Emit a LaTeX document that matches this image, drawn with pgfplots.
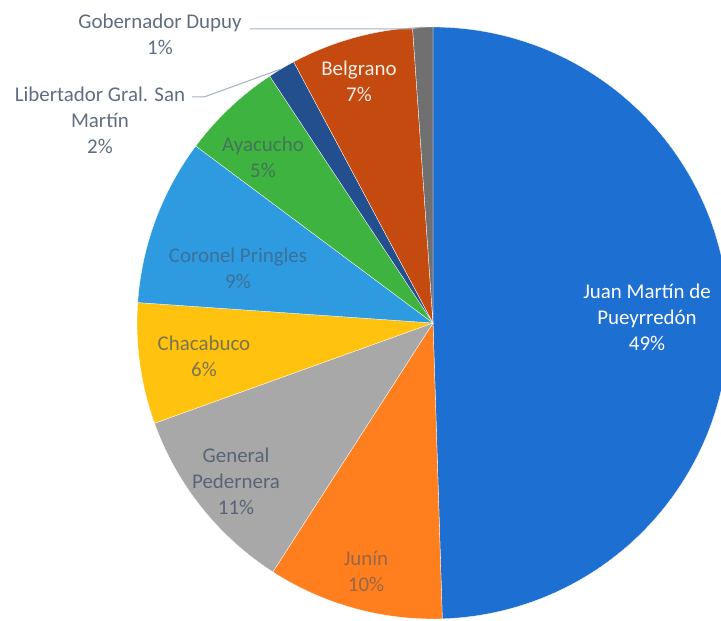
\documentclass[border=0pt]{standalone}
\usepackage{pgfplots}
\pgfplotsset{compat=1.18}
\usepackage{fontspec}
\setmainfont{Carlito}

\definecolor{cJuan}{HTML}{1E6FD2}
\definecolor{cJunin}{HTML}{FF7F1E}
\definecolor{cPeder}{HTML}{A8A8A8}
\definecolor{cChaca}{HTML}{FFC20E}
\definecolor{cPring}{HTML}{2E9BE0}
\definecolor{cAyac}{HTML}{3FB33F}
\definecolor{cLiber}{HTML}{234F8E}
\definecolor{cBelg}{HTML}{C44A10}
\definecolor{cDupuy}{HTML}{707070}
\definecolor{lab}{HTML}{44546A}
\definecolor{leader}{HTML}{A5B0BE}

\tikzset{lbl/.style={font=\fontsize{21}{26}\selectfont, align=center}}

% pie centre and radius, in pixels of the 721x621 frame
\def\cx{433}
\def\cy{298}
\def\rr{296}

% share in percent, clockwise from 12 o'clock
\def\cum{0}
\newcommand\slice[2]{%
  \pgfmathsetmacro\angA{90-3.6*\cum}%
  \pgfmathsetmacro\angB{90-3.6*(\cum+#1)}%
  \edef\doslice{\noexpand\addplot[fill=#2, draw=white, line width=0.3pt,
    domain=\angB:\angA, samples=120]
    ({\cx+\rr*cos(x)},{\cy+\rr*sin(x)}) -- (axis cs:\cx,\cy) -- cycle;}%
  \doslice
  \pgfmathsetmacro\cum{\cum+#1}%
}

\begin{document}
\begin{tikzpicture}
\begin{axis}[
  scale only axis,
  width=721bp, height=621bp,
  xmin=0, xmax=721, ymin=0, ymax=621,
  hide axis,
  clip=true,
]
\slice{49.5}{cJuan}
\slice{9.6}{cJunin}
\slice{10.4}{cPeder}
\slice{6.6}{cChaca}
\slice{9.1}{cPring}
\slice{5.5}{cAyac}
\slice{1.5}{cLiber}
\slice{6.7}{cBelg}
\slice{1.1}{cDupuy}

% leader lines
\addplot[leader, line width=1pt] coordinates {(250,592) (410,592) (423,594)};
\addplot[leader, line width=1pt] coordinates {(192,524) (204,524) (281,552)};

\node[lbl, text=white] at (axis cs:647,304) {Juan Martín de\\Pueyrredón\\49\%};
\node[lbl, text=lab, text opacity=0.55] at (axis cs:366,50) {Junín\\10\%};
\node[lbl, text=lab, text opacity=0.8] at (axis cs:236,140) {General\\Pedernera\\11\%};
\node[lbl, text=lab, text opacity=0.7] at (axis cs:204,265) {Chacabuco\\6\%};
\node[lbl, text=lab, text opacity=0.6] at (axis cs:238,353) {Coronel Pringles\\9\%};
\node[lbl, text=lab, text opacity=0.65] at (axis cs:263,464) {Ayacucho\\5\%};
\node[lbl, text=white, text opacity=0.9] at (axis cs:359,540) {Belgrano\\7\%};
\node[lbl, text=lab, text opacity=0.85] at (axis cs:100,501) {Libertador Gral. San\\Martín\\2\%};
\node[lbl, text=lab, text opacity=0.85] at (axis cs:160,587) {Gobernador Dupuy\\1\%};
\end{axis}
\pgfresetboundingbox
\path[use as bounding box] (current axis.south west) rectangle (current axis.north east);
\end{tikzpicture}
\end{document}
